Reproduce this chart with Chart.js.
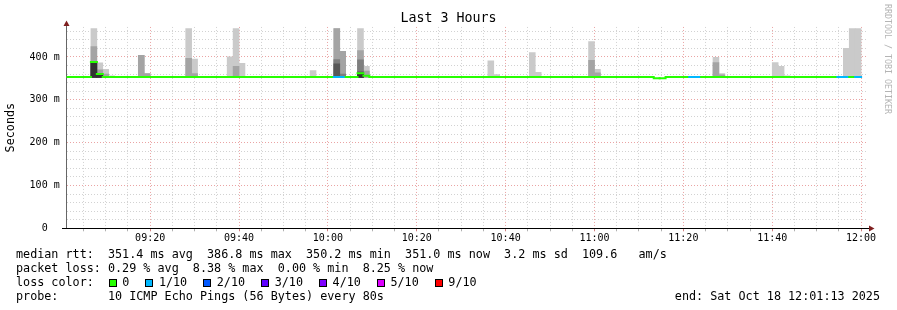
<!DOCTYPE html>
<html>
<head>
<meta charset="utf-8">
<script src="https://cdn.jsdelivr.net/npm/chart.js@4"></script>
<style>
  html, body { margin: 0; padding: 0; background: #fff; }
  #wrap { position: relative; width: 897px; height: 310px; overflow: hidden; }
  #chart { position: absolute; left: 0; top: 0; }
  .mono { font-family: "DejaVu Sans Mono", monospace; color: #000; }
  .leg { position: absolute; left: 16px; font-size: 11.75px; line-height: 14px; white-space: pre; }
  .sq { display: inline-block; width: 6px; height: 6px; border: 1px solid #000; vertical-align: -1px; }
  .lt { display: inline-block; }
  #credit { position: absolute; left: 883px; top: 4px; writing-mode: vertical-rl; font-size: 8.3px; line-height: 10px; color: #b4b4b4; white-space: pre; }
</style>
</head>
<body>
<div id="wrap">
  <canvas id="chart" width="897" height="310"></canvas>
  <div class="mono leg" style="top:247px">median rtt:  351.4 ms avg  386.8 ms max  350.2 ms min  351.0 ms now  3.2 ms sd  109.6   am/s</div>
  <div class="mono leg" style="top:261px">packet loss: 0.29 % avg  8.38 % max  0.00 % min  8.25 % now</div>
  <div class="mono leg" id="lossLine" style="top:275px"></div>
  <div class="mono leg" style="top:289px">probe:       10 ICMP Echo Pings (56 Bytes) every 80s</div>
  <div class="mono leg" style="top:289px;left:auto;right:17px">end: Sat Oct 18 12:01:13 2025</div>
  <div class="mono" id="credit">RRDTOOL / TOBI OETIKER</div>
</div>
<script>
// ---- data -------------------------------------------------------------
const chartTitle = 'Last 3 Hours';
const yAxisTitle = 'Seconds';
const stepSeconds = 80;              // one sample every 80 s, first step starts 09:00:00
const viewStartMinute = 1 + 13 / 60; // 09:01:13 (minutes after 09:00)
const viewEndMinute = 181 + 13 / 60; // 12:01:13

// median RTT per 80 s step (ms), steps 0..134
const medianRtt = [
  353,353,353,353,353,388,360,353,353,353,353,353,353,353,353,
  353,353,353,353,353,353,353,353,353,353,353,353,353,353,353,
  353,353,353,353,353,353,353,353,353,353,353,353,353,353,353,
  353,353,353,353,353,362,356,353,353,353,353,353,353,353,353,
  353,353,353,353,353,353,353,353,353,353,353,353,353,353,353,
  353,353,353,353,353,353,353,353,353,353,353,353,353,353,353,
  353,353,353,353,353,353,353,353,353,353,350,350,353,353,353,
  353,353,353,353,353,353,353,353,353,353,353,353,353,353,353,
  353,353,353,353,353,353,353,353,353,353,353,353,353,353,353
];
// lost pings (of 10) per step
const lossCount = [
  0,0,0,0,0,0,0,0,0,0,0,0,0,0,0,
  0,0,0,0,0,0,0,0,0,0,0,0,0,0,0,
  0,0,0,0,0,0,0,0,0,0,0,0,0,0,0,
  0,1,1,0,0,0,0,0,0,0,0,0,0,0,0,
  0,0,0,0,0,0,0,0,0,0,0,0,0,0,0,
  0,0,0,0,0,0,0,0,0,0,0,0,0,0,0,
  0,0,0,0,0,0,0,0,0,0,0,0,0,0,0,
  0,1,1,0,0,0,0,0,0,0,0,0,0,0,0,
  0,0,0,0,0,0,0,0,0,0,0,1,1,0,1
];
// smoke (ping spread) for the steps that show it; nested bands, outermost first
const smokeSteps = [5,6,7,8,13,14,21,22,28,29,30,42,46,47,50,51,72,73,79,80,89,90,110,111,120,121,122,132,133,134];
const smokeLow   = [352,352,352,352,352,352,352,352,352,352,352,352,352,352,352,352,352,352,352,352,352,352,352,352,352,352,352,352,352,352];
const band1Top   = [466,386,371,356,404,361,466,395,400,466,385,368,466,413,466,378,391,359,410,364,436,371,399,361,387,378,356,420,466,466];
const band2Top   = [424,370,360,null,404,361,397,361,null,378,355,null,466,413,415,367,null,null,null,null,392,363,387,358,null,null,null,null,null,null];
const band3Top   = [389,359,null,null,null,null,null,null,null,null,null,null,394,360,393,null,null,null,null,null,null,null,null,null,null,null,null,null,null,null];
const band4Top   = [389,359,null,null,null,null,null,null,null,null,null,null,384,null,365,null,null,null,null,null,null,null,null,null,null,null,null,null,null,null];
const band5Top   = [389,359,null,null,null,null,null,null,null,null,null,null,null,null,360,null,null,null,null,null,null,null,null,null,null,null,null,null,null,null];
const bandColors = ['#cacaca', '#a4a4a4', '#7e7e7e', '#585858', '#323232'];

const lossLevels = [0, 1, 2, 3, 4, 5, 9];
const lossLabels = ['0', '1/10', '2/10', '3/10', '4/10', '5/10', '9/10'];
const lossColors = ['#26ff00', '#00b8ff', '#0059ff', '#5e00ff', '#7e00ff', '#dd00ff', '#ff0000'];

const xTickMinutes = [20, 40, 60, 80, 100, 120, 140, 160, 180];
const xTickLabels  = ['09:20', '09:40', '10:00', '10:20', '10:40', '11:00', '11:20', '11:40', '12:00'];
const yTickValues  = [0, 100, 200, 300, 400];
const yTickLabels  = ['0  ', '100 m', '200 m', '300 m', '400 m'];
const yMax = 470;

// ---- helpers ----------------------------------------------------------
const stepStart = k => k * stepSeconds / 60;
const stepMid = k => (k + 0.5) * stepSeconds / 60;
const stepEnd = k => (k + 1) * stepSeconds / 60;
function lossColorFor(n) {
  let c = lossColors[0];
  lossLevels.forEach((lv, i) => { if (n >= lv) c = lossColors[i]; });
  return c;
}

// legend line "loss color:"
(function buildLossLine() {
  const el = document.getElementById('lossLine');
  let html = 'loss color:<span style="display:inline-block;width:14.8px"></span>';
  lossLabels.forEach((lab, i) => {
    html += '<span class="sq" style="background:' + lossColors[i] + ';margin-right:5.6px"></span>' +
            '<span class="lt"' + (i < lossLabels.length - 1 ? ' style="margin-right:16px"' : '') + '>' + lab + '</span>';
  });
  el.innerHTML = html;
})();

// ---- chart ------------------------------------------------------------
const bandTops = [band1Top, band2Top, band3Top, band4Top, band5Top];
const smokeDatasets = bandTops.map((tops, b) => ({
  type: 'bar',
  label: 'smoke ' + (b + 1),
  data: smokeSteps.map((k, i) => tops[i] == null ? null : { x: stepMid(k), y: [smokeLow[i], tops[i]] }).filter(Boolean),
  backgroundColor: bandColors[b],
  borderWidth: 0,
  barPercentage: 1,
  categoryPercentage: 1,
  grouped: false,
  yAxisID: 'y',
  order: 10 - b
}));

// median drawn as one horizontal piece per step (no vertical connectors)
const medianPoints = [];
medianRtt.forEach((v, k) => {
  medianPoints.push({ x: stepStart(k), y: v }, { x: stepEnd(k), y: v }, { x: stepEnd(k), y: null });
});
const medianDataset = {
  type: 'line',
  label: 'median rtt',
  data: medianPoints,
  borderWidth: 2,
  borderColor: lossColors[0],
  borderCapStyle: 'square',
  pointRadius: 0,
  fill: false,
  spanGaps: false,
  yAxisID: 'y',
  segment: { borderColor: c => lossColorFor(lossCount[Math.floor(c.p0DataIndex / 3)]) },
  order: 0
};

const xGrid = [];
for (let m = 5; m <= 180; m += 5) xGrid.push(m);
const yGrid = [];
for (let v = 0; v <= 460; v += 20) yGrid.push(v);

const minorColor = '#d2d2d2';
const majorColor = '#eaa4a4';

const axisArrows = {
  id: 'axisArrows',
  afterDraw(chart) {
    const { ctx, chartArea: a } = chart;
    const ax = Math.round(a.left - 0.5) + 0.5;
    const ay = Math.round(a.bottom - 0.5) + 0.5;
    ctx.save();
    ctx.lineWidth = 1;
    ctx.strokeStyle = '#666';
    ctx.beginPath(); ctx.moveTo(ax, a.top + 1); ctx.lineTo(ax, 24); ctx.stroke();
    ctx.strokeStyle = '#000';
    ctx.beginPath(); ctx.moveTo(62, ay); ctx.lineTo(870, ay); ctx.stroke();
    ctx.fillStyle = '#7f1f1f';
    ctx.beginPath(); ctx.moveTo(ax, 20.5); ctx.lineTo(ax - 3, 26); ctx.lineTo(ax + 3, 26); ctx.closePath(); ctx.fill();
    ctx.beginPath(); ctx.moveTo(874.5, ay); ctx.lineTo(869, ay - 3); ctx.lineTo(869, ay + 3); ctx.closePath(); ctx.fill();
    ctx.restore();
  }
};

Chart.defaults.font.family = '"DejaVu Sans Mono", monospace';
Chart.defaults.color = '#000';

new Chart(document.getElementById('chart'), {
  type: 'line',
  data: { datasets: [...smokeDatasets, medianDataset] },
  options: {
    responsive: false,
    animation: false,
    devicePixelRatio: 1,
    layout: { padding: { left: 0, right: 0, top: 0, bottom: 0 } },
    plugins: {
      legend: { display: false },
      tooltip: { enabled: false },
      title: {
        display: true, text: chartTitle, color: '#000',
        font: { family: '"DejaVu Sans Mono", monospace', size: 13.3, weight: 'normal', lineHeight: 1.2 },
        padding: { top: 11, bottom: 0 }
      }
    },
    scales: {
      x: {
        type: 'linear',
        min: viewStartMinute,
        max: viewEndMinute,
        offset: false,
        afterBuildTicks: s => { s.ticks = xGrid.map(v => ({ value: v })); },
        afterFit: s => { s.height = 310 - 228.3; },
        ticks: {
          autoSkip: false, maxRotation: 0, minRotation: 0, padding: 1,
          font: { size: 10 }, color: '#000',
          callback: v => { const i = xTickMinutes.indexOf(v); return i >= 0 ? xTickLabels[i] : ''; }
        },
        grid: {
          offset: false,
          color: c => (c.tick && xTickMinutes.includes(c.tick.value)) ? majorColor : minorColor,
          tickColor: c => (c.tick && xTickMinutes.includes(c.tick.value)) ? '#d08080' : '#b0b0b0',
          drawTicks: true, tickLength: 3, lineWidth: 1
        },
        border: { display: true, color: '#000', dash: [1, 2] }
      },
      y: {
        type: 'linear',
        position: 'left',
        min: 0,
        max: yMax,
        afterBuildTicks: s => { s.ticks = yGrid.map(v => ({ value: v })); },
        afterFit: s => { s.width = 66.7; },
        ticks: {
          autoSkip: false, padding: 7, font: { size: 10 }, color: '#000',
          callback: v => { const i = yTickValues.indexOf(v); return i >= 0 ? yTickLabels[i] : ''; }
        },
        grid: {
          color: c => (c.tick && c.tick.value === 0) ? 'rgba(0,0,0,0)' : (c.tick && yTickValues.includes(c.tick.value)) ? majorColor : minorColor,
          drawTicks: false, lineWidth: 1
        },
        border: { display: true, color: '#666', dash: [1, 2] },
        title: {
          display: true, text: yAxisTitle, color: '#000',
          font: { size: 11.75, lineHeight: 1.2 },
          padding: { top: 4, bottom: 0 }
        }
      },
      yRightMargin: {
        type: 'linear',
        position: 'right',
        min: 0,
        max: yMax,
        afterFit: s => { s.width = 30.5; },
        ticks: { display: false },
        grid: { display: false, drawTicks: false },
        border: { display: false }
      }
    }
  },
  plugins: [axisArrows]
});
</script>
</body>
</html>
